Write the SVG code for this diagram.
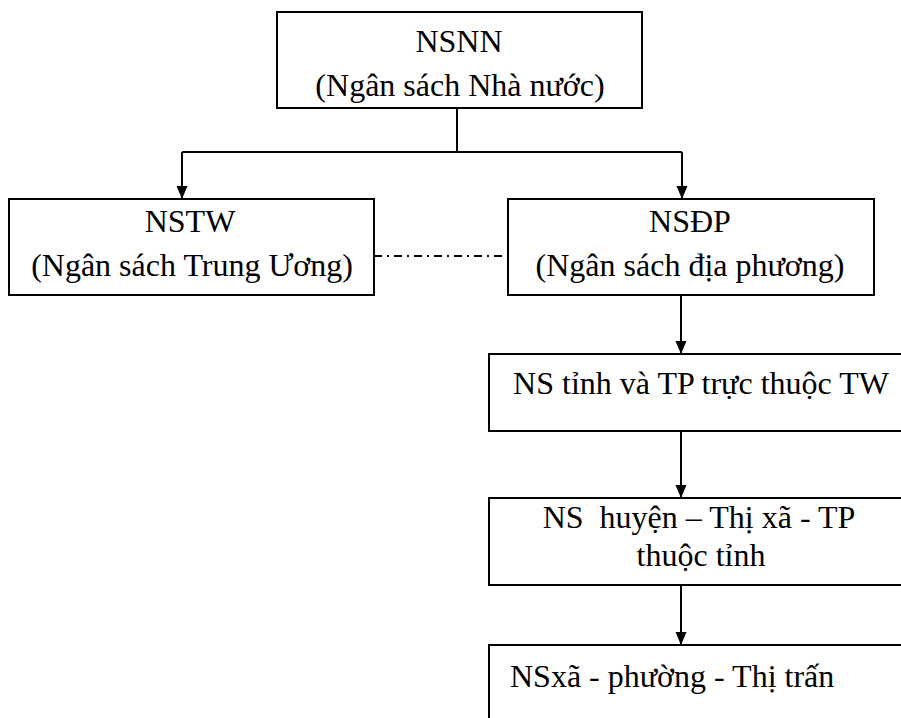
<svg xmlns="http://www.w3.org/2000/svg" width="901" height="718" viewBox="0 0 901 718">
<style>
.box{fill:#fff;stroke:#000;stroke-width:2}
.t{font-family:"Liberation Serif","Times New Roman",serif;font-size:32px;fill:#000}
.c{text-anchor:middle}
.ln{fill:none;stroke:#000;stroke-width:2}
</style>
<defs>
<marker id="ah" markerWidth="10" markerHeight="12" refX="5" refY="12" orient="auto" markerUnits="userSpaceOnUse" viewBox="0 0 10 12">
<path d="M0,0 L10,0 L5,12 Z" fill="#000" transform="rotate(-90 5 6)"/>
</marker>
<marker id="arr" markerWidth="11" markerHeight="13" refX="13" refY="5.5" orient="auto" markerUnits="userSpaceOnUse">
<path d="M0,0 L13,5.5 L0,11 Z" fill="#000"/>
</marker>
</defs>
<rect width="901" height="718" fill="#fff"/>
<g id="connectors">
<path class="ln" d="M457,108 V152"/>
<path class="ln" d="M182,152 H682"/>
<path class="ln" d="M182,152 V199" marker-end="url(#arr)"/>
<path class="ln" d="M682,152 V199" marker-end="url(#arr)"/>
<path class="ln" d="M374,256 H508" stroke-dasharray="8 5 2 5"/>
<path class="ln" d="M681,295 V354" marker-end="url(#arr)"/>
<path class="ln" d="M681,431 V498" marker-end="url(#arr)"/>
<path class="ln" d="M681,585 V645" marker-end="url(#arr)"/>
</g>
<g id="nsnn">
<rect class="box" x="277" y="12" width="365" height="96"/>
<text class="t c" x="459" y="52">NSNN</text>
<text class="t c" x="460" y="96">(Ngân sách Nhà nước)</text>
</g>
<g id="nstw">
<rect class="box" x="9" y="199" width="365" height="96"/>
<text class="t c" x="190" y="232">NSTW</text>
<text class="t c" x="192" y="276">(Ngân sách Trung Ương)</text>
</g>
<g id="nsdp">
<rect class="box" x="508" y="199" width="366" height="96"/>
<text class="t c" x="690" y="232">NSĐP</text>
<text class="t c" x="690" y="276">(Ngân sách địa phương)</text>
</g>
<g id="ns-tinh">
<rect class="box" x="489" y="354" width="430" height="77"/>
<text class="t c" x="701" y="394">NS tỉnh và TP trực thuộc TW</text>
</g>
<g id="ns-huyen">
<rect class="box" x="489" y="498" width="430" height="87"/>
<text class="t c" x="699" y="528" xml:space="preserve">NS  huyện – Thị xã - TP</text>
<text class="t c" x="701" y="566">thuộc tỉnh</text>
</g>
<g id="ns-xa">
<rect class="box" x="489" y="645" width="430" height="100"/>
<text class="t" x="510" y="687">NSxã - phường - Thị trấn</text>
</g>
</svg>
